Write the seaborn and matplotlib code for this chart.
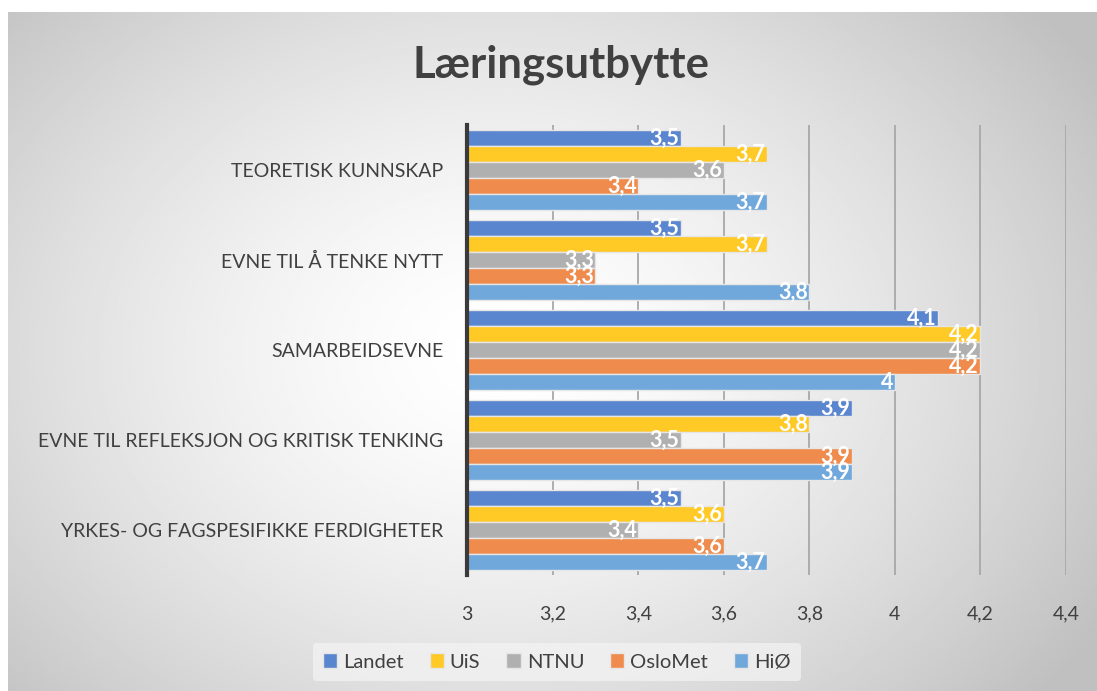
import numpy as np
import pandas as pd
import matplotlib.pyplot as plt
import seaborn as sns
from matplotlib.patches import Patch

# Data
categories = ["TEORETISK KUNNSKAP", "EVNE TIL Å TENKE NYTT", "SAMARBEIDSEVNE",
              "EVNE TIL REFLEKSJON OG KRITISK TENKING", "YRKES- OG FAGSPESIFIKKE FERDIGHETER"]
schools = ["Landet", "UiS", "NTNU", "OsloMet", "HiØ"]
landet = [3.5, 3.5, 4.1, 3.9, 3.5]
uis = [3.7, 3.7, 4.2, 3.8, 3.6]
ntnu = [3.6, 3.3, 4.2, 3.5, 3.4]
oslomet = [3.4, 3.3, 4.2, 3.9, 3.6]
hiof = [3.7, 3.8, 4.0, 3.9, 3.7]
x_ticks = [3, 3.2, 3.4, 3.6, 3.8, 4, 4.2, 4.4]

colors = ['#5A86CF', '#FFC926', '#B0B0B0', '#EF8C4D', '#70A8DC']

series = [landet, uis, ntnu, oslomet, hiof]
rows = []
for name, vals in zip(schools, series):
    for cat, v in zip(categories, vals):
        rows.append({'kategori': cat, 'skole': name, 'verdi': v})
df = pd.DataFrame(rows)

sns.set_style('white')
plt.rcParams['font.family'] = ['Lato', 'DejaVu Sans']

fig = plt.figure(figsize=(10.97, 6.91), dpi=100)

# Radial grey background like the Office chart area
bg = fig.add_axes([8 / 1097, 0, 1 - 8 / 1097, 1 - 12 / 691], zorder=-10)
yy, xx = np.mgrid[0:1:300j, 0:1:480j]
r = np.sqrt(((xx - 0.45) / 0.65) ** 2 + ((yy - 0.5) / 0.8) ** 2)
shade = 1 - 0.25 * np.clip(r, 0, 1.0) ** 1.5
bg.imshow(shade, cmap='gray', vmin=0, vmax=1, aspect='auto', extent=[0, 1, 0, 1])
bg.axis('off')

ax = fig.add_axes([467 / 1097, 1 - 575 / 691, (1066 - 467) / 1097, 450 / 691])
ax.set_facecolor('none')

sns.barplot(data=df, y='kategori', x='verdi', hue='skole', orient='h',
            palette=colors, saturation=1, width=0.89, gap=0, ax=ax, legend=False,
            edgecolor='#E6E6E6', linewidth=1, zorder=3)

ax.set_xlim(3, 4.4)
ax.set_ylim(4.5, -0.5)
ax.set_xticks(x_ticks)
ax.set_xticklabels([f"{t:g}".replace('.', ',') for t in x_ticks])
ax.grid(axis='x', color='#A8A8A8', linewidth=1.3, zorder=0)
ax.grid(axis='y', visible=False)
ax.set_axisbelow(True)

for s in ['top', 'right', 'bottom']:
    ax.spines[s].set_visible(False)
ax.spines['left'].set_color('#3A3A3A')
ax.spines['left'].set_linewidth(3)
ax.spines['left'].set_zorder(5)

ax.tick_params(axis='both', length=0, labelcolor='#404040', labelsize=14)
ax.tick_params(axis='x', pad=22)
ax.tick_params(axis='y', pad=17)
ax.set_xlabel('')
ax.set_ylabel('')

# Value labels inside the end of every bar
for container in ax.containers:
    for bar in container:
        v = bar.get_width()
        yc = bar.get_y() + bar.get_height() / 2
        ax.annotate(f"{v:.1f}".rstrip('0').rstrip('.').replace('.', ','),
                    xy=(v, yc), xytext=(-1, 0), textcoords='offset points',
                    ha='right', va='center', color='white', fontsize=15.5,
                    fontweight='bold', zorder=6)

fig.text(0.511, 1 - 65 / 691, 'Læringsutbytte', ha='center', va='center',
         fontsize=31.5, fontweight='bold', color='#404040')

handles = [Patch(facecolor=c, edgecolor='#E6E6E6') for c in colors]
leg = fig.legend(handles, schools, loc='center', bbox_to_anchor=(557 / 1097, 1 - 662 / 691),
                 ncol=5, frameon=True, fontsize=14.5, handlelength=0.7, handleheight=0.7,
                 handletextpad=0.3, columnspacing=1.3, borderpad=0.5)
leg.get_frame().set_facecolor('#F4F4F4')
leg.get_frame().set_edgecolor('none')
leg.get_frame().set_alpha(0.7)
for t in leg.get_texts():
    t.set_color('#404040')

fig.savefig('out.png', dpi=100)
